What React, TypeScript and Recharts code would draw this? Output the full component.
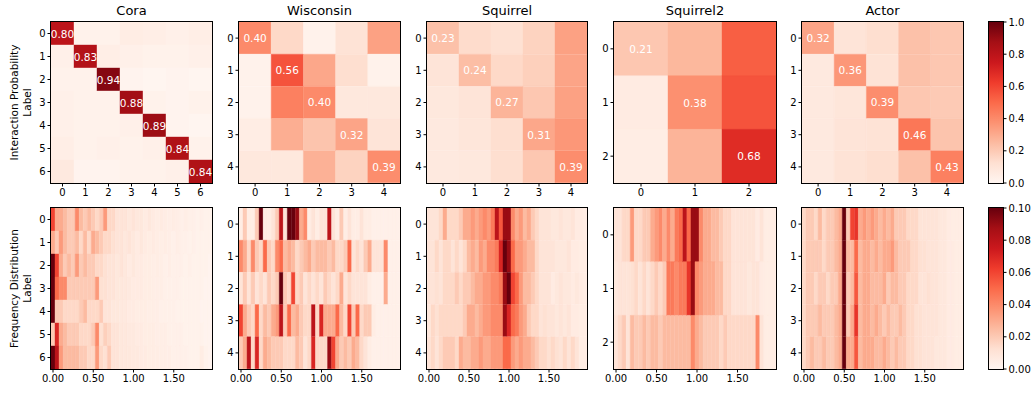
import React from 'react'
import { Bar, BarChart, Cell, LabelList, XAxis, YAxis } from 'recharts'

// matplotlib "Reds" anchor colours
const REDS = ['#fff5f0', '#fee0d2', '#fcbba1', '#fc9272', '#fb6a4a', '#ef3b2c', '#cb181d', '#a50f15', '#67000d']

const TITLES = ['Cora', 'Wisconsin', 'Squirrel', 'Squirrel2', 'Actor']

// interaction probability between labels (row -> column)
const CORA_P = [
  [0.8, 0.02, 0.02, 0.05, 0.04, 0.03, 0.04],
  [0.03, 0.83, 0.04, 0.03, 0.02, 0.02, 0.03],
  [0.02, 0.02, 0.94, 0.01, 0.0, 0.01, 0.0],
  [0.03, 0.02, 0.02, 0.88, 0.02, 0.01, 0.02],
  [0.03, 0.02, 0.02, 0.03, 0.89, 0.01, 0.0],
  [0.04, 0.02, 0.03, 0.02, 0.03, 0.84, 0.02],
  [0.07, 0.01, 0.01, 0.02, 0.02, 0.03, 0.84],
]
const WISCONSIN_P = [
  [0.4, 0.15, 0.02, 0.11, 0.33],
  [0.02, 0.56, 0.31, 0.13, 0.02],
  [0.02, 0.43, 0.4, 0.08, 0.08],
  [0.05, 0.29, 0.22, 0.32, 0.1],
  [0.08, 0.08, 0.28, 0.17, 0.39],
]
const SQUIRREL_P = [
  [0.23, 0.14, 0.12, 0.17, 0.33],
  [0.1, 0.24, 0.15, 0.18, 0.32],
  [0.08, 0.1, 0.27, 0.21, 0.33],
  [0.07, 0.09, 0.13, 0.31, 0.36],
  [0.07, 0.08, 0.13, 0.21, 0.39],
]
const SQUIRREL2_P = [
  [0.21, 0.26, 0.53],
  [0.06, 0.38, 0.56],
  [0.05, 0.27, 0.68],
]
const ACTOR_P = [
  [0.32, 0.1, 0.13, 0.23, 0.21],
  [0.07, 0.36, 0.11, 0.23, 0.21],
  [0.07, 0.09, 0.39, 0.21, 0.2],
  [0.07, 0.1, 0.11, 0.46, 0.22],
  [0.07, 0.11, 0.13, 0.23, 0.43],
]

// frequency distribution per label, 40 bins of 0.05 from 0 to 2, values in %
const CORA_F = [
  [6, 3, 3, 2.5, 2, 2, 4, 2.5, 2, 2.5, 2, 1.5, 2, 3.5, 1.5, 1.5, 1, 1, 1, 0.8, 1, 0.8, 0.8, 0.6, 0.8, 0.6, 0.5, 0.6, 0.5, 0.4, 0.5, 0.4, 0.3, 0.4, 0.3, 0.3, 0.2, 0.3, 0.2, 0.2],
  [3, 2, 3.5, 2.5, 2, 2, 2.5, 1.5, 2.5, 1.5, 3, 2.5, 2, 1.5, 1.5, 1.2, 1, 1, 0.8, 1, 0.8, 0.6, 0.8, 0.6, 0.5, 0.6, 0.5, 0.4, 0.5, 0.4, 0.3, 0.4, 0.3, 0.3, 0.2, 0.3, 0.2, 0.2, 0.2, 0.2],
  [11, 6, 3, 2, 2.5, 2, 3.5, 2, 2.5, 2, 2, 1.5, 1.5, 1.2, 1, 1, 0.8, 1, 0.8, 0.6, 0.8, 0.6, 0.6, 0.5, 0.5, 0.4, 0.5, 0.4, 0.3, 0.4, 0.3, 0.3, 0.3, 0.2, 0.3, 0.2, 0.2, 0.2, 0.2, 0.1],
  [11, 5, 4, 4, 2, 2, 2, 2, 2, 2, 2, 3.5, 1.2, 1.2, 1, 1, 0.8, 0.8, 0.8, 0.7, 0.6, 0.6, 0.6, 0.5, 0.5, 0.4, 0.4, 0.4, 0.3, 0.3, 0.3, 0.3, 0.2, 0.2, 0.2, 0.2, 0.2, 0.2, 0.1, 0.1],
  [11, 2, 2, 1.5, 1.5, 1.5, 1.5, 2, 2.5, 1.5, 1.5, 1.5, 2, 1, 1, 0.8, 0.8, 0.7, 0.7, 0.6, 0.6, 0.5, 0.5, 0.5, 0.4, 0.4, 0.4, 0.3, 0.3, 0.3, 0.3, 0.2, 0.2, 0.2, 0.2, 0.2, 0.2, 0.1, 0.1, 0.1],
  [2, 7, 3, 2.5, 2, 2, 2, 1.5, 1.5, 1.5, 2, 4, 1.2, 1.8, 1.5, 1, 1, 0.8, 0.8, 0.7, 0.7, 0.6, 0.6, 0.5, 0.5, 0.5, 0.4, 0.4, 0.4, 0.3, 0.3, 0.3, 0.3, 0.2, 0.2, 0.2, 0.2, 0.2, 0.1, 0.1],
  [10, 8, 3.5, 2.5, 2.5, 2.5, 2.5, 2, 2, 1.5, 1.5, 3.5, 1.5, 1.2, 2, 1, 1, 0.8, 0.8, 0.8, 0.7, 0.7, 0.6, 0.6, 0.5, 0.5, 0.5, 0.4, 0.4, 0.4, 0.3, 0.3, 0.3, 0.3, 0.2, 0.2, 0.2, 0.5, 0.2, 0.1],
]
const WISCONSIN_F = [
  [0.5, 2, 0.5, 0.5, 2, 12, 0.5, 0.5, 1, 2, 8, 1, 12, 13, 9, 3, 4, 0.5, 1, 0.5, 1, 1, 8, 1, 0.5, 2, 0.5, 1, 0.5, 0.5, 1, 0.5, 0.5, 0.3, 0.3, 0.3, 0.3, 0.3, 0.3, 0.3],
  [4, 3, 1.5, 4, 2, 1.5, 5, 2, 1.5, 4, 5, 2.5, 3, 2.5, 1.5, 2, 2.5, 3, 2, 2.5, 2.5, 2.5, 2, 2.5, 1.5, 1.5, 2, 5, 1, 1.5, 1, 2, 3, 1, 1, 1, 4, 0.3, 0.3, 0.3],
  [1, 2, 1, 2, 1, 1.5, 1, 2, 1.5, 2, 11, 2, 1.5, 6, 1.5, 2, 1, 1.5, 1, 1.5, 1, 2, 1.5, 1, 1.5, 3, 1, 1.5, 1, 1, 1, 1, 0.5, 0.3, 0.3, 0.3, 3, 0.3, 0.3, 0.3],
  [6, 3, 2, 1.5, 5, 1.5, 2.5, 2, 3, 3.5, 8, 2, 5, 2.5, 3, 2, 1.5, 1.5, 8, 1.5, 7, 3, 3, 3, 5, 2.5, 1.5, 6, 2, 5, 1.5, 2, 2, 0.5, 0.3, 0.3, 0.3, 0.3, 0.3, 0.3],
  [2, 3, 8, 1.5, 7, 1.5, 3, 2.5, 2, 2, 2, 1.5, 1.5, 1.5, 2.5, 2, 1, 1.5, 7, 1.5, 1.5, 1.5, 9, 6, 3, 2, 2.5, 2, 3, 2.5, 1.5, 1, 0.5, 0.3, 0.3, 0.3, 0.3, 0.3, 0.3, 0.3],
]
const SQUIRREL_F = [
  [1, 1, 1, 1.5, 3, 1.5, 1.5, 1.5, 2, 3, 3, 3.5, 3, 3.5, 4, 3.5, 4.5, 8, 5.5, 9, 9, 4, 3, 3.5, 2.5, 3, 2, 1.5, 1, 1, 1, 0.8, 0.8, 1, 0.8, 0.8, 1, 0.6, 0.6, 0.5],
  [1, 1, 1.5, 1, 1.5, 1.5, 1, 1.5, 1, 1.5, 2.5, 3, 2.5, 3.5, 3, 4, 4, 4.5, 7, 10, 9, 5, 3.5, 3.5, 3, 2.5, 2.5, 1.5, 1, 1, 1, 1, 0.8, 0.8, 0.8, 1, 0.6, 0.6, 0.5, 0.5],
  [1, 1, 1.2, 1, 1.5, 1.5, 1.5, 2, 1.5, 2, 2, 2.5, 3, 3, 3.5, 3.5, 4, 4, 4.5, 9, 10, 6, 5, 3.5, 2.5, 2.5, 2, 1.5, 1, 1, 1, 0.6, 0.8, 1, 0.8, 0.8, 0.6, 0.8, 0.6, 0.5],
  [0.8, 1.5, 1.2, 1.5, 1.5, 1.5, 1.5, 1.5, 1.5, 2, 3, 3, 2.5, 3, 3.5, 3.5, 4, 4, 4, 9, 7, 5, 4.5, 3.5, 3, 2, 1.5, 1.5, 1, 1.2, 1, 1, 0.8, 1, 0.8, 1, 0.6, 0.6, 0.5, 0.5],
  [1, 1.5, 1, 1.5, 2, 2, 2, 1.5, 3, 2.5, 2.5, 3, 3, 3.5, 3, 3, 3.5, 3.5, 3.5, 5, 5, 3.5, 3, 3.5, 3, 3, 2.5, 2, 1.5, 1.5, 1.2, 1.5, 1.2, 1, 1.5, 1, 1.5, 1, 0.5, 0.5],
]
const SQUIRREL2_F = [
  [1, 1, 1.5, 1.5, 3.5, 1.5, 1.5, 2, 2, 3, 3.5, 4, 3, 4, 3, 4.5, 5, 8, 5, 9, 9, 4, 3, 3, 2.5, 2.5, 2, 1.5, 1.5, 1, 1, 1, 1, 1, 1, 0.6, 1, 0.5, 0.5, 0.5],
  [0.8, 1, 1, 1, 1.2, 1.5, 1, 1.5, 1, 1.5, 2, 1.5, 2, 4.5, 4.5, 4, 4.5, 4.5, 6.5, 9, 4, 3.5, 3, 3, 3, 2.5, 2.5, 1.5, 1.5, 1, 1, 1, 1, 0.8, 1, 1, 0.6, 0.5, 0.5, 0.5],
  [1, 1.5, 2, 1, 2.5, 2, 2, 2.5, 2, 2.5, 2.5, 2, 2.5, 2.5, 2.5, 2.5, 2.5, 2.5, 2.5, 4, 3, 2.5, 2, 2, 2, 2, 1.5, 2, 1.5, 1.5, 1.5, 1.5, 1.5, 1.5, 1.5, 4, 1, 0.5, 0.5, 0.5],
]
const ACTOR_F = [
  [1.5, 2, 2, 1.5, 2.5, 1.5, 2, 2, 2.5, 3, 11, 2, 6, 6.5, 3, 3.5, 3, 3.5, 3, 2.5, 3, 2.5, 3, 2, 2, 2, 1.5, 1.5, 1.5, 1, 1, 1, 1, 1, 0.8, 0.8, 0.6, 0.5, 0.5, 0.5],
  [1.5, 2, 2, 2, 2, 1.5, 2, 2, 2.5, 3, 11, 2.5, 2.5, 5, 2.5, 3, 3, 2.5, 3, 2.5, 3, 3, 3.5, 2.5, 2, 2, 2, 1.5, 1.5, 1.2, 1.2, 1, 1, 1, 0.8, 0.8, 0.6, 0.6, 0.5, 0.5],
  [1.5, 2, 2, 1.5, 2, 2, 1.5, 2, 2, 3, 11, 2, 2.5, 5.5, 2.5, 3, 3, 2.5, 2.5, 2.5, 3, 2, 2.5, 2.5, 2, 2, 1.5, 1.5, 1.5, 1, 1, 1.2, 1, 1, 0.8, 0.8, 0.6, 0.6, 0.5, 0.5],
  [1.5, 2, 2, 2, 2.5, 2, 2, 2, 2.5, 3, 11, 2, 3, 6.5, 2.5, 3, 3, 2.5, 3, 2.5, 2, 2.5, 2, 2, 2.5, 2, 1.5, 1.5, 1.2, 1.2, 1, 1, 1, 1, 0.8, 0.8, 0.6, 0.6, 0.5, 0.5],
  [1.5, 2, 2.5, 2, 2, 2.5, 2, 2, 2.5, 3, 11, 3, 3, 5.5, 2.5, 3, 3, 3, 2.5, 2.5, 3, 2.5, 2, 2.5, 2, 2, 1.5, 1.5, 1.2, 1.2, 1, 1, 1, 0.8, 0.8, 0.8, 0.6, 0.6, 0.5, 0.5],
]

const FREQ_TICKS = [0.5, 10.5, 20.5, 30.5]
const FREQ_LABELS = ['0.00', '0.50', '1.00', '1.50']
const TOP_CB_TICKS = [0, 0.2, 0.4, 0.6, 0.8, 1.0]
const BOTTOM_CB_TICKS = [0, 0.02, 0.04, 0.06, 0.08, 0.1]

const PROBS = [CORA_P, WISCONSIN_P, SQUIRREL_P, SQUIRREL2_P, ACTOR_P]
const FREQS = [CORA_F, WISCONSIN_F, SQUIRREL_F, SQUIRREL2_F, ACTOR_F]

const COLS = [
  { x: 51, w: 161 },
  { x: 239, w: 161 },
  { x: 427, w: 160 },
  { x: 614, w: 162 },
  { x: 802, w: 161 },
]
const TOP_Y = 22
const BOT_Y = 208
const PH = 161
const FONT = '"DejaVu Sans", sans-serif'

function hexRgb(h: string) {
  return [1, 3, 5].map((i) => parseInt(h.slice(i, i + 2), 16))
}

function reds(t: number) {
  const v = Math.max(0, Math.min(1, t)) * 8
  const i = Math.min(7, Math.floor(v))
  const f = v - i
  const a = hexRgb(REDS[i])
  const b = hexRgb(REDS[i + 1])
  const c = a.map((x, k) => Math.round(x + (b[k] - x) * f))
  return `rgb(${c[0]},${c[1]},${c[2]})`
}

const tickStyle = { fontSize: 10, fill: '#000', fontFamily: FONT }

function Heatmap({ x, y, w, h, rows, vmax, xTicks, xLabels, annotate }: any) {
  const ncols = rows[0].length
  const data = rows.map((r: number[], i: number) => {
    const o: any = { label: String(i) }
    r.forEach((_, j) => (o['c' + j] = 1))
    return o
  })
  return (
    <div style={{ position: 'absolute', left: x - 30, top: y - 20 }}>
      <BarChart
        width={w + 35}
        height={h + 45}
        data={data}
        layout="vertical"
        margin={{ top: 20, right: 5, left: 0, bottom: 0 }}
        barCategoryGap={0}
        barGap={0}
      >
        <XAxis
          type="number"
          domain={[0, ncols]}
          allowDataOverflow
          ticks={xTicks}
          interval={0}
          tickFormatter={(v) => xLabels[xTicks.indexOf(v)]}
          height={25}
          axisLine={false}
          tickSize={3.5}
          tickLine={{ stroke: '#000' }}
          tick={tickStyle}
        />
        <YAxis
          type="category"
          dataKey="label"
          width={30}
          interval={0}
          axisLine={false}
          tickSize={3.5}
          tickLine={{ stroke: '#000' }}
          tick={tickStyle}
        />
        {rows[0].map((_: number, j: number) => (
          <Bar key={j} dataKey={'c' + j} stackId="s" isAnimationActive={false}>
            {rows.map((r: number[], i: number) => {
              const c = reds(r[j] / vmax)
              return <Cell key={i} fill={c} stroke={c} strokeWidth={0.4} />
            })}
            {annotate && (
              <LabelList
                dataKey={'c' + j}
                content={(p: any) =>
                  p.index === j ? (
                    <text
                      x={p.x + p.width / 2}
                      y={p.y + p.height / 2}
                      fill="#fff"
                      textAnchor="middle"
                      dominantBaseline="central"
                      fontSize={10.5}
                      fontFamily={FONT}
                    >
                      {rows[j][j].toFixed(2)}
                    </text>
                  ) : null
                }
              />
            )}
          </Bar>
        ))}
      </BarChart>
      <div
        style={{
          position: 'absolute',
          left: 29,
          top: 19,
          width: w + 2,
          height: h + 2,
          border: '1px solid #000',
          boxSizing: 'border-box',
          pointerEvents: 'none',
        }}
      />
    </div>
  )
}

function ColorBar({ y, vmax, ticks, digits, id }: any) {
  const data = [{ name: 'cb', v: vmax }]
  return (
    <div style={{ position: 'absolute', left: 989, top: y - 10 }}>
      <BarChart width={50} height={PH + 20} data={data} margin={{ top: 10, right: 0, left: 0, bottom: 10 }} barCategoryGap={0}>
        <defs>
          <linearGradient id={id} x1="0" y1="1" x2="0" y2="0">
            {REDS.map((c, i) => (
              <stop key={i} offset={`${(i / 8) * 100}%`} stopColor={c} />
            ))}
          </linearGradient>
        </defs>
        <XAxis dataKey="name" hide />
        <YAxis
          orientation="right"
          type="number"
          domain={[0, vmax]}
          ticks={ticks}
          interval={0}
          width={36}
          tickFormatter={(v) => Number(v).toFixed(digits)}
          axisLine={false}
          tickSize={3.5}
          tickLine={{ stroke: '#000' }}
          tick={tickStyle}
        />
        <Bar dataKey="v" fill={`url(#${id})`} isAnimationActive={false} />
      </BarChart>
      <div
        style={{
          position: 'absolute',
          left: -1,
          top: 9,
          width: 16,
          height: PH + 2,
          border: '1px solid #000',
          boxSizing: 'border-box',
          pointerEvents: 'none',
        }}
      />
    </div>
  )
}

function YTitle({ y, line1 }: { y: number; line1: string }) {
  const cy = y + PH / 2
  return (
    <svg style={{ position: 'absolute', left: 0, top: 0 }} width={40} height={393}>
      <text transform={`translate(14,${cy}) rotate(-90)`} textAnchor="middle" dominantBaseline="central" fontSize={10.5} fontFamily={FONT}>
        {line1}
      </text>
      <text transform={`translate(27,${cy}) rotate(-90)`} textAnchor="middle" dominantBaseline="central" fontSize={10.5} fontFamily={FONT}>
        Label
      </text>
    </svg>
  )
}

export default function App() {
  return (
    <div style={{ position: 'absolute', left: 0, top: 0, width: 1034, height: 393, background: '#fff', fontFamily: FONT }}>
      {TITLES.map((t, k) => (
        <div
          key={t}
          style={{ position: 'absolute', left: COLS[k].x, top: 3, width: COLS[k].w, textAlign: 'center', fontSize: 13, lineHeight: '16px' }}
        >
          {t}
        </div>
      ))}
      {PROBS.map((rows, k) => (
        <Heatmap
          key={'p' + k}
          x={COLS[k].x}
          y={TOP_Y}
          w={COLS[k].w}
          h={PH}
          rows={rows}
          vmax={1}
          xTicks={rows.map((_, j) => j + 0.5)}
          xLabels={rows.map((_, j) => String(j))}
          annotate
        />
      ))}
      {FREQS.map((rows, k) => (
        <Heatmap
          key={'f' + k}
          x={COLS[k].x}
          y={BOT_Y}
          w={COLS[k].w}
          h={PH}
          rows={rows}
          vmax={10}
          xTicks={FREQ_TICKS}
          xLabels={FREQ_LABELS}
        />
      ))}
      <ColorBar y={TOP_Y} vmax={1} ticks={TOP_CB_TICKS} digits={1} id="cbTop" />
      <ColorBar y={BOT_Y} vmax={0.1} ticks={BOTTOM_CB_TICKS} digits={2} id="cbBot" />
      <YTitle y={TOP_Y} line1="Interaction Probability" />
      <YTitle y={BOT_Y} line1="Frequency Distribution" />
    </div>
  )
}
